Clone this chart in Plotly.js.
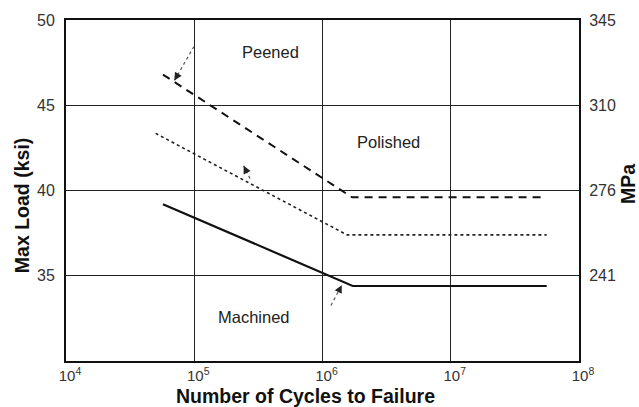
<!DOCTYPE html>
<html>
<head>
<meta charset="utf-8">
<script src="https://cdn.plot.ly/plotly-3.0.1.min.js"></script>
<style>html,body{margin:0;padding:0;background:#fff;}#chart{width:639px;height:407px;}</style>
</head>
<body>
<div id="chart"></div>
<script>
// ---- data ----
const peenedCycles   = [5.7e4, 1.7e6, 5.1e7];
const peenedLoad     = [46.8, 39.6, 39.6];
const polishedCycles = [5.0e4, 1.55e6, 5.6e7];
const polishedLoad   = [43.35, 37.4, 37.4];
const machinedCycles = [5.7e4, 1.72e6, 5.6e7];
const machinedLoad   = [39.2, 34.4, 34.4];

const ksiTicks   = [35, 40, 45, 50];
const mpaLabels  = ['241', '276', '310', '345'];
const xTickVals  = [1e4, 1e5, 1e6, 1e7, 1e8];
const xTickText  = ['10<sup>4</sup>', '10<sup>5</sup>', '10<sup>6</sup>', '10<sup>7</sup>', '10<sup>8</sup>'];

const labelNames = ['Peened', 'Polished', 'Machined'];
const labelX     = [5.598, 6.511, 5.462];   // log10 cycles
const labelY     = [48.11, 42.87, 32.57];

// leaders: [tailLogX, tailY, tipLogX, tipY, headAx, headAy]
const leaders = [
  [4.998, 48.45, 4.845, 46.45, 3.5, -6],
  [5.435, 40.70, 5.385, 41.45, 3, 6],
  [6.066, 33.26, 6.150, 34.45, -3.5, 7]
];

const FONT = 'Liberation Sans, Arial, sans-serif';

const traces = [
  {x: peenedCycles, y: peenedLoad, mode: 'lines', line: {color: '#111', width: 2, dash: '8px,6px'}, hoverinfo: 'skip'},
  {x: polishedCycles, y: polishedLoad, mode: 'lines', line: {color: '#222', width: 1.6, dash: 'dot'}, hoverinfo: 'skip'},
  {x: machinedCycles, y: machinedLoad, mode: 'lines', line: {color: '#111', width: 2.2}, hoverinfo: 'skip'},
  {x: [1e5], y: [40], yaxis: 'y2', mode: 'markers', marker: {opacity: 0}, hoverinfo: 'skip'}
];

const shapes = leaders.map(l => ({
  type: 'line', xref: 'x', yref: 'y',
  x0: Math.pow(10, l[0]), y0: l[1], x1: Math.pow(10, l[2]), y1: l[3],
  line: {color: '#555', width: 1.2, dash: 'dot'}
}));

const titleFont = {family: FONT, size: 19.5, color: '#111', weight: 'bold'};

const annotations = labelNames.map((t, i) => ({
  x: labelX[i], y: labelY[i], xref: 'x', yref: 'y', text: t, showarrow: false,
  font: {family: FONT, size: 16.5, color: '#222'}
})).concat(leaders.map(l => ({
  x: l[2], y: l[3], xref: 'x', yref: 'y', text: '', showarrow: true,
  ax: l[4], ay: l[5], arrowhead: 2, arrowsize: 1.3, arrowwidth: 1.2, arrowcolor: '#222'
}))).concat([
  {text: 'Number of Cycles to Failure', xref: 'paper', yref: 'paper', x: 0.466, y: -0.102,
   xanchor: 'center', yanchor: 'middle', showarrow: false, font: titleFont},
  {text: 'Max Load (ksi)', xref: 'paper', yref: 'paper', x: -0.0858, y: 0.457, textangle: -90,
   xanchor: 'center', yanchor: 'middle', showarrow: false, font: titleFont},
  {text: 'MPa', xref: 'paper', yref: 'paper', x: 1.0955, y: 0.519, textangle: -90,
   xanchor: 'center', yanchor: 'middle', showarrow: false, font: titleFont}
]);

const layout = {
  width: 639, height: 407,
  margin: {l: 66, r: 60, t: 20, b: 46},
  paper_bgcolor: '#fff', plot_bgcolor: '#fff',
  showlegend: false,
  font: {family: FONT, color: '#333', size: 15},
  xaxis: {
    type: 'log', range: [4, 8],
    tickvals: xTickVals, ticktext: xTickText,
    showgrid: true, gridcolor: '#222', gridwidth: 1,
    showline: true, linecolor: '#111', linewidth: 2, mirror: true,
    ticks: '', ticklabelshift: 4,
    zeroline: false,
    tickfont: {family: FONT, size: 15, color: '#333'}
  },
  yaxis: {
    range: [30, 50], tickvals: ksiTicks,
    showgrid: true, gridcolor: '#222', gridwidth: 1,
    showline: true, linecolor: '#111', linewidth: 2, mirror: true,
    ticks: 'outside', ticklen: 6, tickcolor: 'rgba(0,0,0,0)',
    zeroline: false,
    tickfont: {family: FONT, size: 16, color: '#333'}
  },
  yaxis2: {
    overlaying: 'y', side: 'right', range: [30, 50],
    tickvals: ksiTicks, ticktext: mpaLabels,
    showgrid: false, zeroline: false, showline: false,
    ticks: 'outside', ticklen: 6, tickcolor: 'rgba(0,0,0,0)',
    tickfont: {family: FONT, size: 16, color: '#333'}
  },
  shapes: shapes,
  annotations: annotations
};

Plotly.newPlot('chart', traces, layout, {staticPlot: true, displayModeBar: false});
</script>
</body>
</html>
